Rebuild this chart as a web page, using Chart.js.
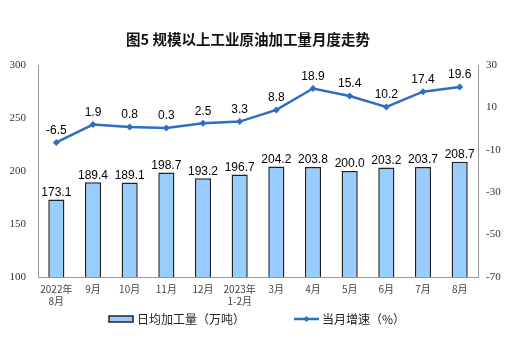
<!DOCTYPE html>
<html>
<head>
<meta charset="utf-8">
<script src="https://cdn.jsdelivr.net/npm/chart.js@4"></script>
<style>
  html, body { margin: 0; padding: 0; background: #fff; }
  #wrap { width: 520px; height: 347px; }
</style>
</head>
<body>
<div id="wrap"><canvas id="chart" width="520" height="347"></canvas></div>
<script>
const months = [['2022年', '8月'], '9月', '10月', '11月', '12月', ['2023年', '1-2月'], '3月', '4月', '5月', '6月', '7月', '8月'];
const dailyOutput = [173.1, 189.4, 189.1, 198.7, 193.2, 196.7, 204.2, 203.8, 200.0, 203.2, 203.7, 208.7];
const growth = [-6.5, 1.9, 0.8, 0.3, 2.5, 3.3, 8.8, 18.9, 15.4, 10.2, 17.4, 19.6];
const leftTicks = [100, 150, 200, 250, 300];
const rightTicks = [-70, -50, -30, -10, 10, 30];
const titleText = '图5 规模以上工业原油加工量月度走势';

const barColor = '#99CCFF';
const lineColor = '#2F6FC0';
const cjk = '"Noto Sans CJK SC", "Noto Sans", sans-serif';

// labels above the bars and the line points, placed from the elements' own positions
const valueLabels = {
  id: 'valueLabels',
  afterDatasetsDraw(chart) {
    const g = chart.ctx;
    g.save();
    g.font = '12px "Liberation Sans", Arial, sans-serif';
    g.fillStyle = '#000';
    g.textAlign = 'center';
    g.textBaseline = 'bottom';
    chart.getDatasetMeta(0).data.forEach((el, i) => {
      g.fillText(dailyOutput[i].toFixed(1), el.x, el.y - 1);
    });
    chart.getDatasetMeta(1).data.forEach((el, i) => {
      g.fillText(growth[i].toFixed(1), el.x, el.y - 6);
    });
    g.restore();
  }
};

// title and legend drawn by hand: title sits a bit left of centre, legend close under the axis
const frameText = {
  id: 'frameText',
  afterDraw(chart) {
    const g = chart.ctx;
    g.save();
    g.font = 'bold 14.5px ' + cjk;
    g.fillStyle = '#111';
    g.textAlign = 'center';
    g.textBaseline = 'middle';
    g.fillText(titleText, 248, 39);

    const y = chart.height - 28;
    g.font = '12px ' + cjk;
    g.textAlign = 'left';

    let x = 109;
    g.fillStyle = barColor;
    g.fillRect(x, y - 3, 24, 6);
    g.strokeStyle = '#222';
    g.lineWidth = 1.5;
    g.strokeRect(x, y - 3, 24, 6);
    g.fillStyle = '#222';
    g.fillText(chart.data.datasets[0].label, x + 28, y);

    x = 294;
    g.strokeStyle = lineColor;
    g.lineWidth = 2.5;
    g.beginPath(); g.moveTo(x, y); g.lineTo(x + 25, y); g.stroke();
    g.fillStyle = lineColor;
    g.beginPath();
    g.moveTo(x + 12.5, y - 3); g.lineTo(x + 15.5, y); g.lineTo(x + 12.5, y + 3); g.lineTo(x + 9.5, y);
    g.closePath(); g.fill();
    g.fillStyle = '#222';
    g.fillText(chart.data.datasets[1].label, x + 28, y);
    g.restore();
  }
};

const ctx = document.getElementById('chart');

const chart = new Chart(ctx, {
  data: {
    labels: months,
    datasets: [{
      type: 'bar',
      label: '日均加工量（万吨）',
      data: dailyOutput,
      yAxisID: 'y',
      backgroundColor: barColor,
      borderColor: '#222',
      borderWidth: 1.5,
      barPercentage: 0.44,
      categoryPercentage: 1,
      order: 2
    }, {
      type: 'line',
      label: '当月增速（%）',
      data: growth,
      yAxisID: 'y1',
      borderColor: lineColor,
      backgroundColor: lineColor,
      borderWidth: 2.5,
      pointStyle: 'rectRot',
      pointRadius: 3.5,
      pointBorderWidth: 0,
      tension: 0,
      order: 1
    }]
  },
  options: {
    responsive: false,
    animation: false,
    layout: { padding: { top: 65, bottom: 38, left: 0, right: 0 } },
    plugins: {
      title: { display: false },
      legend: { display: false },
      tooltip: { enabled: false }
    },
    scales: {
      x: {
        grid: { display: false, drawTicks: true, tickLength: 4 },
        border: { color: '#999' },
        ticks: { color: '#444', font: { family: cjk, size: 10 }, maxRotation: 0, autoSkip: false, padding: 2 }
      },
      y: {
        position: 'left',
        min: 100, max: 300,
        afterBuildTicks(s) { s.ticks = leftTicks.map(v => ({ value: v })); },
        afterFit(s) { s.width = 38; },
        grid: { display: false, drawTicks: true, tickLength: 3 },
        border: { color: '#999' },
        ticks: { color: '#333', font: { family: '"Liberation Serif", serif', size: 11 }, padding: 9 }
      },
      y1: {
        position: 'right',
        min: -70, max: 30,
        afterBuildTicks(s) { s.ticks = rightTicks.map(v => ({ value: v })); },
        afterFit(s) { s.width = 42; },
        grid: { display: false, drawTicks: true, tickLength: 3 },
        border: { color: '#999' },
        ticks: { color: '#333', font: { family: '"Liberation Serif", serif', size: 11 }, padding: 5 }
      }
    }
  },
  plugins: [valueLabels, frameText]
});
</script>
</body>
</html>
